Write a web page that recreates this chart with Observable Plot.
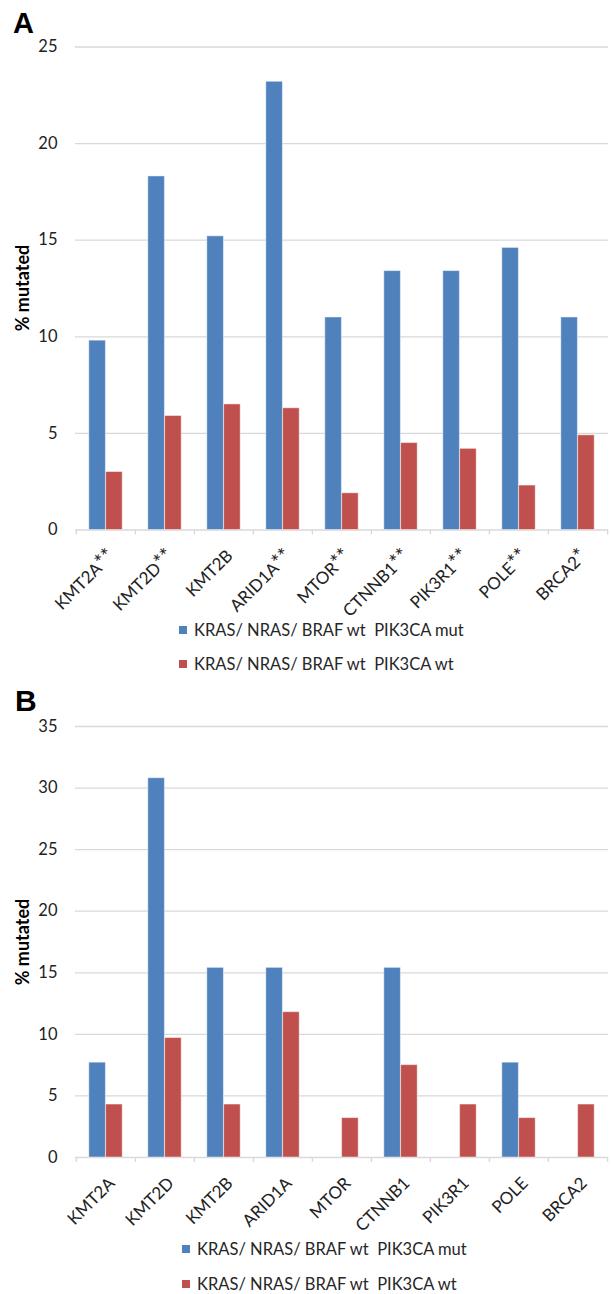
<!DOCTYPE html>
<html><head><meta charset="utf-8">
<script src="https://cdn.jsdelivr.net/npm/d3@7"></script>
<script src="https://cdn.jsdelivr.net/npm/@observablehq/plot@0.6"></script>
<style>
body{margin:0;background:#fff;}
#root{position:relative;width:611px;height:1294px;overflow:hidden;background:#fff;}
.letter{position:absolute;font-family:"Liberation Sans",Arial,sans-serif;font-weight:bold;line-height:1;color:#000;}
.leg{position:absolute;display:flex;align-items:center;font-family:Lato,sans-serif;font-size:16.5px;color:#262626;height:20px;white-space:pre;}
.sw{width:8px;height:8px;margin-right:7px;flex:none;}
.panel{position:absolute;left:0;}
.ytitle{position:absolute;font-family:Lato,sans-serif;font-weight:bold;font-size:18px;color:#000;white-space:nowrap;line-height:1;transform:translate(-50%,-50%) rotate(-90deg);}
</style></head><body><div id="root"></div>
<script>
const seriesNames = ["KRAS/ NRAS/ BRAF wt  PIK3CA mut", "KRAS/ NRAS/ BRAF wt  PIK3CA wt"];
const seriesColors = ["#4f81bd", "#c0504d"];
const yTitle = "% mutated";
const panelLetters = ["A", "B"];

const genesA = ["KMT2A**","KMT2D**","KMT2B","ARID1A**","MTOR**","CTNNB1**","PIK3R1**","POLE**","BRCA2*"];
const mutA = [9.8, 18.3, 15.2, 23.2, 11.0, 13.4, 13.4, 14.6, 11.0];
const wtA  = [3.0, 5.9, 6.5, 6.3, 1.9, 4.5, 4.2, 2.3, 4.9];
const ticksA = [0, 5, 10, 15, 20, 25];

const genesB = ["KMT2A","KMT2D","KMT2B","ARID1A","MTOR","CTNNB1","PIK3R1","POLE","BRCA2"];
const mutB = [7.7, 30.8, 15.4, 15.4, 0, 15.4, 0, 7.7, 0];
const wtB  = [4.3, 9.7, 4.3, 11.8, 3.2, 7.5, 4.3, 3.2, 4.3];
const ticksB = [0, 5, 10, 15, 20, 25, 30, 35];

const root = document.getElementById("root");

function panel({genes, mut, wt, ticks, top, height, marginTop, marginBottom}) {
  const W = 611, ML = 75, MR = 3;
  const bw = (W - ML - MR) / genes.length;
  const barW = 16.8;
  const rows = genes.flatMap((g, i) => [
    {gene: g, series: seriesNames[0], value: mut[i]},
    {gene: g, series: seriesNames[1], value: wt[i]}
  ]).filter(d => d.value > 0);
  const axisStyle = {stroke: "#d9d9d9", strokeWidth: 1.3};
  const svg = Plot.plot({
    width: W, height, marginLeft: ML, marginRight: MR, marginTop, marginBottom,
    style: {fontFamily: "Lato, sans-serif", fontSize: "16.5px", color: "#222", background: "transparent", overflow: "visible"},
    x: {domain: genes, padding: 0, axis: null},
    y: {domain: [0, ticks[ticks.length - 1]], ticks, tickSize: 0, tickPadding: 18, label: null},
    color: {domain: seriesNames, range: seriesColors},
    marks: [
      Plot.ruleY(ticks, axisStyle),
      Plot.ruleX(genes, {x: d => d, y1: () => 0, y2: () => 0, dx: -bw / 2, insetBottom: -5, ...axisStyle}),
      Plot.ruleX(genes.slice(-1), {x: d => d, y1: () => 0, y2: () => 0, dx: bw / 2, insetBottom: -5, ...axisStyle}),
      Plot.barY(rows.filter(d => d.series === seriesNames[0]), {x: "gene", y: "value", fill: "series",
        insetLeft: bw / 2 - barW, insetRight: bw / 2, stroke: "#fff", strokeOpacity: 0.45, strokeWidth: 1}),
      Plot.barY(rows.filter(d => d.series === seriesNames[1]), {x: "gene", y: "value", fill: "series",
        insetLeft: bw / 2, insetRight: bw / 2 - barW, stroke: "#fff", strokeOpacity: 0.45, strokeWidth: 1}),
      Plot.text(genes, {x: d => d, y: () => 0, text: d => d, rotate: -45, textAnchor: "end", dx: 6, dy: 23, fontSize: 17, fill: "#222"})
    ]
  });
  // enlarge asterisks (significance marks) to match the reference typeface
  svg.querySelectorAll("text").forEach(t => {
    const s = t.textContent;
    if (genes.includes(s) && s.includes("*")) {
      const base = s.replace(/\*+$/, "");
      const stars = s.slice(base.length);
      t.textContent = base;
      const ts = document.createElementNS("http://www.w3.org/2000/svg", "tspan");
      ts.setAttribute("font-size", "21");
      ts.textContent = stars;
      t.appendChild(ts);
    }
  });
  svg.classList.add("panel");
  svg.style.top = top + "px";
  svg.style.position = "absolute";
  root.appendChild(svg);
  // y-axis title, centred on the plot frame
  const yt = document.createElement("div");
  yt.className = "ytitle";
  yt.textContent = yTitle;
  yt.style.left = "21.5px";
  yt.style.top = (top + (marginTop + height - marginBottom) / 2) + "px";
  root.appendChild(yt);
}

function letter(txt, left, top, size) {
  const d = document.createElement("div");
  d.className = "letter";
  d.textContent = txt;
  d.style.left = left + "px"; d.style.top = top + "px"; d.style.fontSize = size + "px";
  root.appendChild(d);
}

function legend(left, tops) {
  seriesNames.forEach((name, i) => {
    const row = document.createElement("div");
    row.className = "leg";
    row.style.left = left + "px";
    row.style.top = tops[i] + "px";
    const sw = document.createElement("div");
    sw.className = "sw";
    sw.style.background = seriesColors[i];
    const t = document.createElement("span");
    t.textContent = name;
    row.appendChild(sw); row.appendChild(t);
    root.appendChild(row);
  });
}

panel({genes: genesA, mut: mutA, wt: wtA, ticks: ticksA, top: 0, height: 612, marginTop: 46.5, marginBottom: 82.5});
panel({genes: genesB, mut: mutB, wt: wtB, ticks: ticksB, top: 680, height: 560, marginTop: 46, marginBottom: 83});
letter(panelLetters[0], 13, 8.5, 29);
letter(panelLetters[1], 15, 685.5, 30);
legend(179, [620, 654]);
legend(182, [1239, 1274]);
</script></body></html>
